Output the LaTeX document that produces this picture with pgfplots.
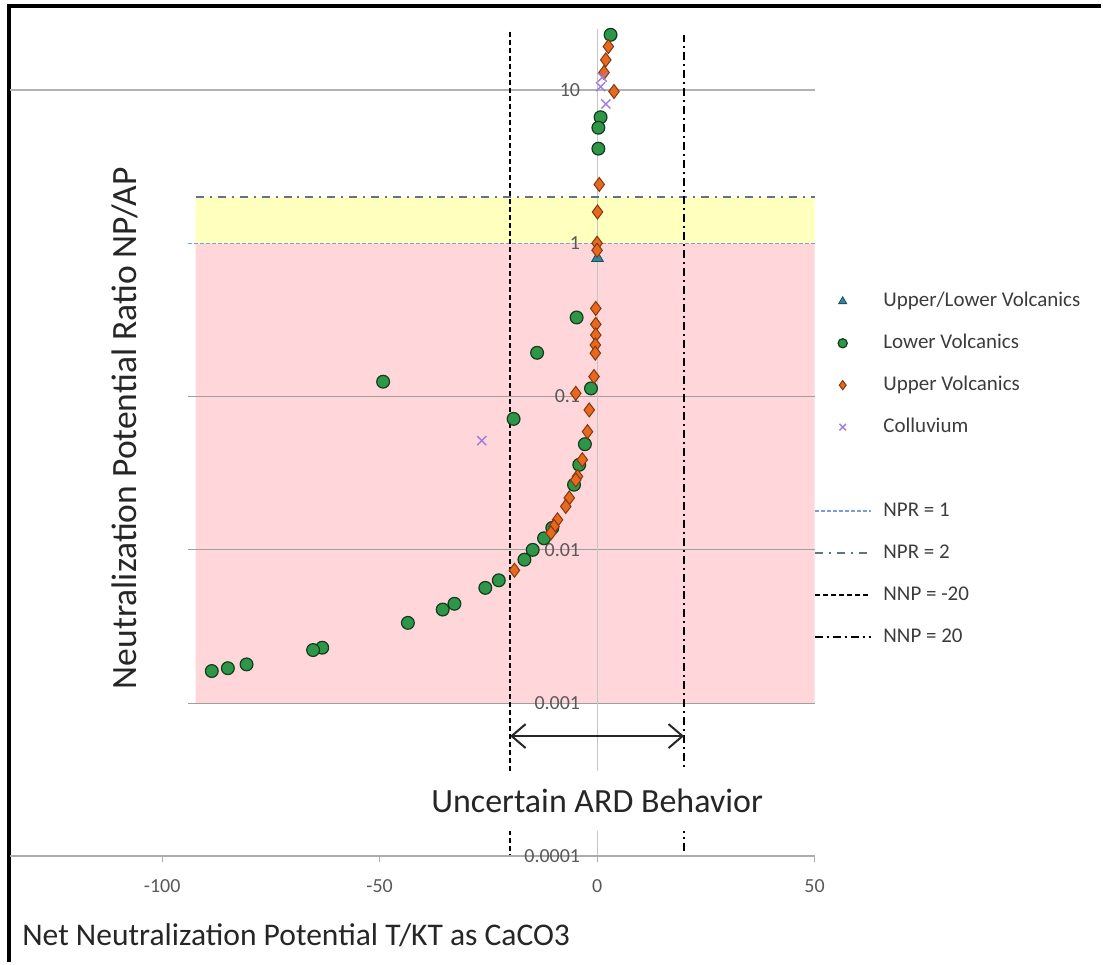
\documentclass[border=0pt]{standalone}
\usepackage{fontspec}
\setmainfont{Carlito}
\usepackage{pgfplots}
\pgfplotsset{compat=1.18}
\usetikzlibrary{arrows.meta}

\definecolor{pinkzone}{RGB}{255,214,218}
\definecolor{yellowzone}{RGB}{255,255,190}
\definecolor{lowgreen}{RGB}{46,150,72}
\definecolor{uporange}{RGB}{232,104,30}
\definecolor{colpurple}{RGB}{160,124,224}
\definecolor{ultriangle}{RGB}{49,133,156}
\definecolor{nprone}{RGB}{120,160,210}
\definecolor{nprtwo}{RGB}{95,115,140}
\definecolor{ticktext}{RGB}{89,89,89}
\definecolor{legtext}{RGB}{60,60,60}

\pgfplotsset{
  markleg/.style={legend image code/.code={%
    \path[draw=none] (0pt,0pt) -- (28pt,0pt);
    \draw[##1, mark size=2.3pt] plot coordinates {(14pt,0pt)};}},
}

\begin{document}
\begin{tikzpicture}[x=1pt,y=1pt]
\path (0,0) rectangle (551.5,482);
\draw[line width=2pt] (4.5,0) -- (4.5,479) -- (551.5,479);

\begin{axis}[
  at={(5pt,53pt)}, anchor=south west,
  scale only axis, width=403pt, height=414.5pt,
  xmin=-135, xmax=50, ymin=0.0001, ymax=25,
  ymode=log,
  axis x line=bottom, axis y line=middle,
  axis line style={-},
  x axis line style={draw=gray!65, line width=1pt},
  y axis line style={draw=none},
  hide obscured x ticks=false, hide obscured y ticks=false,
  axis on top,
  xtick={-100,-50,0,50}, xticklabels={-100,-50,0,50},
  ytick={0.0001,0.001,0.01,0.1,1,10},
  yticklabels={0.0001,0.001,0.01,0.1,1,10},
  tick align=outside, major tick length=3pt,
  xtick style={draw=gray!65},
  ytick style={draw=none},
  minor tick num=0,
  tick label style={font=\fontsize{10}{12}\selectfont, text=ticktext},
  xticklabel style={yshift=-5pt},
  yticklabel style={xshift=-2pt},
  legend cell align=left,
  legend image code/.code={\draw[#1] (0pt,0pt) -- (28pt,0pt);},
  legend style={at={(axis description cs:0.9988,0.684)}, anchor=north west,
    draw=none, fill=none, inner sep=0pt, row sep=10.5pt,
    column sep=4pt,
    font=\fontsize{10.5}{12}\selectfont, text=legtext,
    nodes={text height=8pt, text depth=2.5pt, inner ysep=0pt}},
  clip=false,
]

% shaded zones
\addplot[forget plot, draw=none, fill=pinkzone] coordinates
  {(-92.3,0.001) (50,0.001) (50,1) (-92.3,1) (-92.3,0.001)};
\addplot[forget plot, draw=none, fill=yellowzone] coordinates
  {(-92.3,1) (50,1) (50,2) (-92.3,2) (-92.3,1)};

% grid lines and y axis line at x = 0
\addplot[forget plot, gray!60, line width=0.6pt] coordinates {(-135,10) (50,10)};
\addplot[forget plot, gray!75, line width=0.6pt] coordinates {(-94,0.1) (50,0.1)};
\addplot[forget plot, gray!75, line width=0.6pt] coordinates {(-94,0.01) (50,0.01)};
\addplot[forget plot, gray!75, line width=0.6pt] coordinates {(-94,0.001) (50,0.001)};
\addplot[forget plot, gray!45, line width=0.5pt] coordinates {(0,25) (0,0.0001)};

% NPR and NNP reference lines
\addplot[forget plot, nprone, line width=0.7pt, dash pattern=on 2pt off 1pt] coordinates {(-94,1) (50,1)};
\addplot[forget plot, nprtwo, line width=0.7pt, dash pattern=on 4pt off 3pt on 1pt off 3pt] coordinates {(-92.3,2) (50,2)};
\addplot[forget plot, black, line width=0.8pt, dash pattern=on 2.5pt off 1.5pt] coordinates {(-20,24) (-20,0.0001)};
\addplot[forget plot, black, line width=0.8pt, dash pattern=on 4pt off 2pt on 1pt off 2pt] coordinates {(20,23) (20,0.0001)};

% data
\addplot[only marks, mark=triangle*, mark size=3.4pt,
  mark options={fill=ultriangle, draw=ultriangle!60!black}, markleg]
  coordinates {(0.1,0.8)};
\addlegendentry{Upper/Lower Volcanics}

\addplot[only marks, mark=*, mark size=3.2pt,
  mark options={fill=lowgreen, draw=black!60!lowgreen, line width=0.6pt}, markleg]
  coordinates {
  (3.1,22.9) (0.8,6.64) (0.3,5.67) (0.3,4.14)
  (-4.7,0.328) (-13.8,0.193) (-49.2,0.125) (-1.4,0.113)
  (-19.2,0.0715) (-2.8,0.0489) (-4.1,0.0359) (-5.3,0.0266)
  (-10.3,0.0139) (-12.2,0.0119) (-14.8,0.0100) (-16.7,0.00863)
  (-22.6,0.00633) (-25.7,0.00565) (-32.8,0.00445) (-35.5,0.00408)
  (-43.5,0.00334) (-63.2,0.0023) (-65.3,0.00222) (-80.6,0.00179)
  (-84.9,0.00169) (-88.6,0.00162)
  };
\addlegendentry{Lower Volcanics}

\addplot[only marks, mark=diamond*, mark size=3.5pt,
  mark options={fill=uporange, draw=uporange!55!black, line width=0.5pt}, markleg]
  coordinates {
  (2.6,19.2) (2.0,15.7) (1.6,13.0) (3.9,9.77) (0.5,2.42)
  (0.1,1.6) (0,1.0) (0,0.9)
  (-0.3,0.376) (-0.3,0.296) (-0.3,0.252) (-0.4,0.217) (-0.4,0.192)
  (-0.7,0.135) (-4.9,0.105) (-1.8,0.0818) (-2.2,0.059) (-3.4,0.0387)
  (-4.5,0.0301) (-4.9,0.0286) (-6.4,0.0218) (-7.2,0.0192) (-9.1,0.0157)
  (-9.9,0.0142) (-10.6,0.0129) (-19.0,0.00736)
  };
\addlegendentry{Upper Volcanics}

\addplot[only marks, mark=x, mark size=3.2pt,
  mark options={draw=colpurple, line width=0.7pt}, markleg]
  coordinates {(1.2,12.1) (0.8,10.5) (2.0,8.1) (-26.5,0.0516)};
\addlegendentry{Colluvium}

\addlegendimage{empty legend}
\addlegendentry{}
\addlegendimage{nprone, line width=0.7pt, dash pattern=on 2pt off 1pt}
\addlegendentry{NPR = 1}
\addlegendimage{nprtwo, line width=0.7pt, dash pattern=on 4pt off 3pt on 1pt off 3pt}
\addlegendentry{NPR = 2}
\addlegendimage{black, line width=0.8pt, dash pattern=on 2.5pt off 1.5pt}
\addlegendentry{NNP = -20}
\addlegendimage{black, line width=0.8pt, dash pattern=on 4pt off 2pt on 1pt off 2pt}
\addlegendentry{NNP = 20}

% uncertain zone annotation
\draw[{Straight Barb[length=7pt,width=12pt]}-{Straight Barb[length=7pt,width=12pt]},
  line width=1pt, black!85] (axis cs:-20,0.00061) -- (axis cs:20,0.00061);
\node[fill=white, inner xsep=3pt, inner ysep=9pt,
  font=\fontsize{17}{20}\selectfont, text=black!85]
  at (axis cs:0,0.00023) {Uncertain ARD Behavior};
\end{axis}

\node[rotate=90, font=\fontsize{17.8}{21}\selectfont, text=black!85]
  at (62.5,267.5) {Neutralization Potential Ratio NP/AP};
\node[anchor=west, font=\fontsize{15.8}{19}\selectfont, text=black!85, inner sep=0pt]
  at (11,13.5) {Net Neutralization Potential T/KT as CaCO3};
\end{tikzpicture}
\end{document}
